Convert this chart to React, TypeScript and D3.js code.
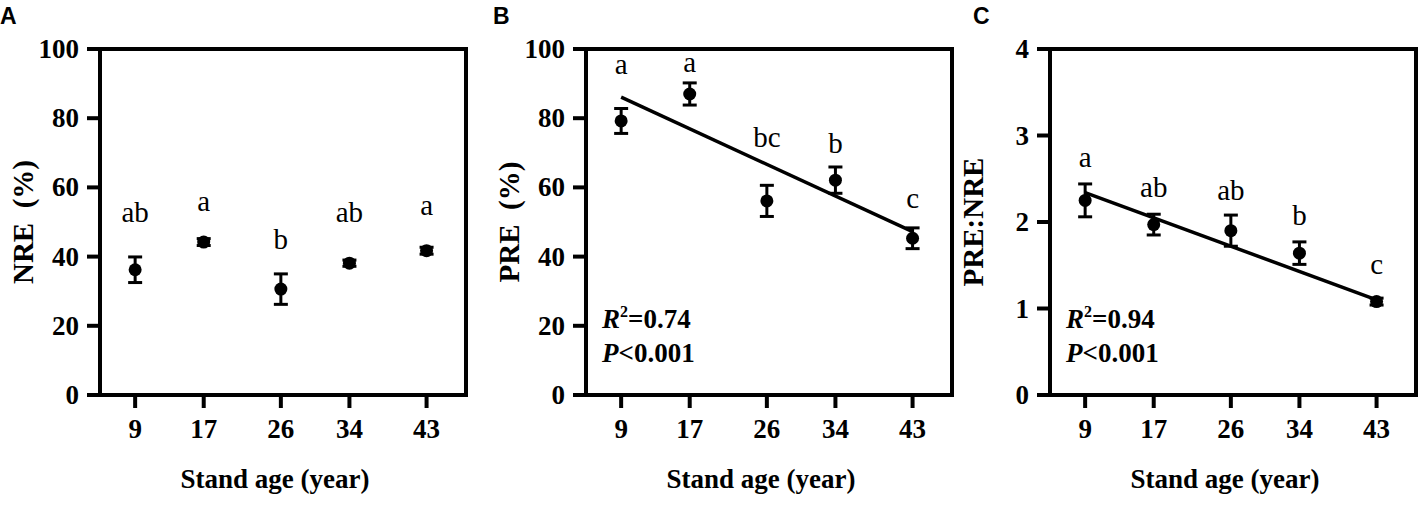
import * as d3 from 'd3';
import { useEffect, useRef } from 'react';

// stand ages (x)
const ages = [9, 17, 26, 34, 43];

// panel A: NRE (%)
const nreMean = [36.2, 44.2, 30.6, 38.1, 41.7];
const nreSe = [3.7, 1.0, 4.4, 0.9, 1.0];
const nreLetters = ['ab', 'a', 'b', 'ab', 'a'];
const nreLetterAt = [50.0, 53.2, 42.2, 50.0, 52.0];

// panel B: PRE (%)
const preMean = [79.2, 87.0, 56.1, 62.1, 45.3];
const preSe = [3.6, 3.2, 4.5, 3.8, 3.0];
const preLetters = ['a', 'a', 'bc', 'b', 'c'];
const preLetterAt = [92.8, 93.4, 71.7, 69.9, 54.0];
const preFit = [86.1, 47.2]; // fitted values at 9 and 43

// panel C: PRE:NRE
const ratioMean = [2.25, 1.97, 1.9, 1.64, 1.08];
const ratioSe = [0.19, 0.12, 0.18, 0.13, 0.04];
const ratioLetters = ['a', 'ab', 'ab', 'b', 'c'];
const ratioLetterAt = [2.64, 2.29, 2.25, 1.97, 1.4];
const ratioFit = [2.34, 1.1];

const nreTicks = [0, 20, 40, 60, 80, 100];
const preTicks = [0, 20, 40, 60, 80, 100];
const ratioTicks = [0, 1, 2, 3, 4];

type Panel = {
  tag: string;
  tagX: number;
  left: number;
  title: string;
  yMax: number;
  ticks: number[];
  mean: number[];
  se: number[];
  letters: string[];
  letterAt: number[];
  fit?: number[];
  r2?: string;
};

const panels: Panel[] = [
  { tag: 'A', tagX: 0, left: 100, title: 'NRE  (%)', yMax: 100, ticks: nreTicks, mean: nreMean, se: nreSe, letters: nreLetters, letterAt: nreLetterAt },
  { tag: 'B', tagX: 493, left: 586, title: 'PRE  (%)', yMax: 100, ticks: preTicks, mean: preMean, se: preSe, letters: preLetters, letterAt: preLetterAt, fit: preFit, r2: '0.74' },
  { tag: 'C', tagX: 973, left: 1050, title: 'PRE:NRE', yMax: 4, ticks: ratioTicks, mean: ratioMean, se: ratioSe, letters: ratioLetters, letterAt: ratioLetterAt, fit: ratioFit, r2: '0.94' },
];

const W = 1420;
const H = 506;
const TOP = 49;
const BOTTOM = 395;
const PW = 366;
const SERIF = 'Liberation Serif';

const bold = (sel: d3.Selection<SVGTextElement, unknown, null, undefined>, size: number) =>
  sel.attr('font-family', SERIF).attr('font-size', size).attr('font-weight', 'bold').attr('fill', '#000');

export default function App() {
  const ref = useRef<SVGSVGElement>(null);

  useEffect(() => {
    if (!ref.current) return;
    const svg = d3.select(ref.current);
    svg.selectAll('*').remove();
    svg.append('rect').attr('width', W).attr('height', H).attr('fill', '#fff');

    panels.forEach((p) => {
      const g = svg.append('g');
      const x = d3.scaleLinear().domain([4.9, 47.6]).range([p.left, p.left + PW]);
      const y = d3.scaleLinear().domain([0, p.yMax]).range([BOTTOM, TOP]);

      // panel tag
      g.append('text')
        .text(p.tag)
        .attr('x', p.tagX)
        .attr('y', 24)
        .attr('font-family', 'Liberation Sans')
        .attr('font-weight', 'bold')
        .attr('font-size', 23);

      // frame
      g.append('rect')
        .attr('x', p.left)
        .attr('y', TOP)
        .attr('width', PW)
        .attr('height', BOTTOM - TOP)
        .attr('fill', 'none')
        .attr('stroke', '#000')
        .attr('stroke-width', 4);

      // y ticks
      p.ticks.forEach((t) => {
        g.append('line')
          .attr('x1', p.left - 13).attr('x2', p.left)
          .attr('y1', y(t)).attr('y2', y(t))
          .attr('stroke', '#000').attr('stroke-width', 4);
        bold(g.append('text'), 27)
          .text(t)
          .attr('x', p.left - 21)
          .attr('y', y(t) + 9)
          .attr('text-anchor', 'end');
      });

      // x ticks
      ages.forEach((a) => {
        g.append('line')
          .attr('x1', x(a)).attr('x2', x(a))
          .attr('y1', BOTTOM).attr('y2', BOTTOM + 13)
          .attr('stroke', '#000').attr('stroke-width', 4);
        bold(g.append('text'), 27)
          .text(a)
          .attr('x', x(a))
          .attr('y', 438)
          .attr('text-anchor', 'middle');
      });

      // axis titles
      bold(g.append('text'), 27)
        .text('Stand age (year)')
        .attr('x', p.left + PW / 2 - 8)
        .attr('y', 488)
        .attr('text-anchor', 'middle');

      bold(g.append('text'), 29)
        .text(p.title)
        .attr('transform', `translate(${p.left - 67},${(TOP + BOTTOM) / 2}) rotate(-90)`)
        .attr('text-anchor', 'middle')
        .style('white-space', 'pre');

      // regression line
      if (p.fit) {
        g.append('line')
          .attr('x1', x(ages[0])).attr('y1', y(p.fit[0]))
          .attr('x2', x(ages[ages.length - 1])).attr('y2', y(p.fit[1]))
          .attr('stroke', '#000').attr('stroke-width', 3.5);
      }

      // error bars + points
      ages.forEach((a, i) => {
        const cx = x(a);
        const hi = y(p.mean[i] + p.se[i]);
        const lo = y(p.mean[i] - p.se[i]);
        g.append('line')
          .attr('x1', cx).attr('x2', cx).attr('y1', hi).attr('y2', lo)
          .attr('stroke', '#000').attr('stroke-width', 3);
        [hi, lo].forEach((yy) => {
          g.append('line')
            .attr('x1', cx - 7).attr('x2', cx + 7).attr('y1', yy).attr('y2', yy)
            .attr('stroke', '#000').attr('stroke-width', 3);
        });
        g.append('circle').attr('cx', cx).attr('cy', y(p.mean[i])).attr('r', 6.5).attr('fill', '#000');

        g.append('text')
          .text(p.letters[i])
          .attr('x', cx)
          .attr('y', y(p.letterAt[i]))
          .attr('text-anchor', 'middle')
          .attr('font-family', SERIF)
          .attr('font-size', 29);
      });

      // stats
      if (p.r2) {
        const sx = p.left + 16;
        const r = bold(g.append('text'), 27).attr('x', sx).attr('y', 328);
        r.append('tspan').attr('font-style', 'italic').text('R');
        r.append('tspan').attr('font-size', 16).attr('dy', -11).text('2');
        r.append('tspan').attr('dy', 11).text('=' + p.r2);
        const pp = bold(g.append('text'), 27).attr('x', sx).attr('y', 362);
        pp.append('tspan').attr('font-style', 'italic').text('P');
        pp.append('tspan').text('<0.001');
      }
    });
  }, []);

  return (
    <div style={{ position: 'absolute', left: 0, top: 0 }}>
      <svg ref={ref} width={W} height={H} style={{ display: 'block' }} />
    </div>
  );
}
